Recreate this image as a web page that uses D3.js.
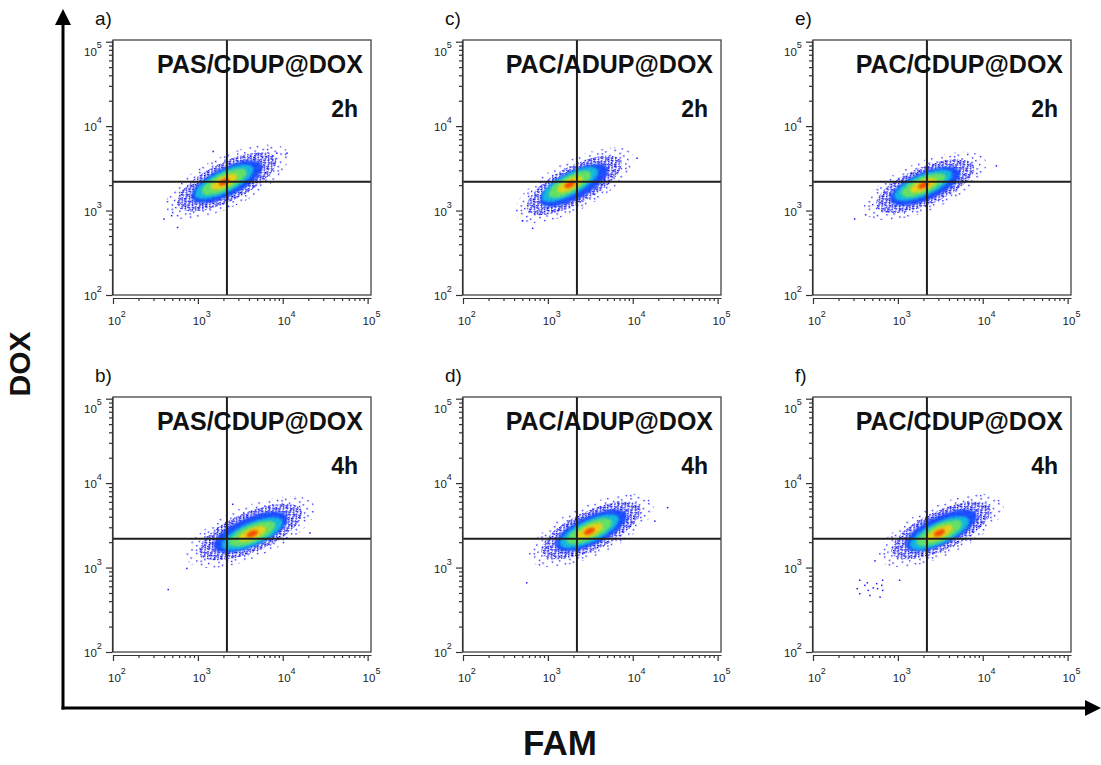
<!DOCTYPE html>
<html>
<head>
<meta charset="utf-8">
<script src="https://cdn.jsdelivr.net/npm/d3@7"></script>
<style>
  body { margin: 0; background: #fff; }
  svg { display: block; font-family: "Liberation Sans", Arial, sans-serif; }
</style>
</head>
<body>
<svg id="chart" width="1101" height="765"></svg>
<script>
// ---- data ----
var panelLetters = ["a)", "b)", "c)", "d)", "e)", "f)"];
var sampleNames  = ["PAS/CDUP@DOX", "PAS/CDUP@DOX", "PAC/ADUP@DOX", "PAC/ADUP@DOX", "PAC/CDUP@DOX", "PAC/CDUP@DOX"];
var timePoints   = ["2h", "4h", "2h", "4h", "2h", "4h"];
var majorTicks   = [1e2, 1e3, 1e4, 1e5];
var tickExponents = ["2", "3", "4", "5"];
var gateFAM = 2200, gateDOX = 2200;

// density cloud of each panel (log10 units)
var cloudFAM  = [3.34, 3.62, 3.31, 3.51, 3.32, 3.51];
var cloudDOX  = [3.34, 3.42, 3.30, 3.44, 3.29, 3.44];
var coreFAM   = [3.31, 3.64, 3.26, 3.49, 3.30, 3.49];
var coreDOX   = [3.34, 3.40, 3.31, 3.43, 3.30, 3.41];
var cloudTilt = [26, 23, 28, 25, 23, 25];
var cloudSpread = [1.0, 1.02, 0.97, 1.0, 0.97, 1.0];

// contour levels, outer -> inner: semi-axes in decades
var levelMajor = [0.80, 0.64, 0.46, 0.38, 0.29, 0.17, 0.07];
var levelMinor = [0.30, 0.23, 0.17, 0.13, 0.10, 0.065, 0.035];

// stray events outside the main cloud (log10 FAM / log10 DOX)
var strayFAM = [
  [2.76, 2.69, 3.93, 4.05, 3.18, 2.60],
  [2.65, 2.87, 4.32, 3.41],
  [2.82, 4.05, 2.70],
  [2.75, 4.41, 4.26],
  [2.49, 4.16, 2.62],
  [2.52, 2.55, 2.61, 2.65, 2.67, 2.71, 2.75, 2.76, 2.81, 2.82, 2.55, 2.79, 2.64, 2.82, 3.02, 2.73]
];
var strayDOX = [
  [2.80, 2.94, 3.68, 3.68, 3.70, 2.90],
  [2.74, 2.99, 3.41, 3.75],
  [2.79, 3.62, 2.88],
  [2.82, 3.71, 3.55],
  [2.90, 3.53, 2.95],
  [2.75, 2.69, 2.79, 2.73, 2.67, 2.76, 2.81, 2.75, 2.79, 2.73, 2.85, 2.65, 2.82, 2.85, 2.85, 3.08]
];

// ---- layout ----
var pw = 258, ph = 255;
var colX = [113, 463, 813], rowY = [40, 397];
var levelFill = ["url(#pSparse)", "url(#pBlue)", "url(#pLight)", "url(#pCyan)", "url(#pGreen)", "url(#pYellow)", "url(#pRed)"];

var svg = d3.select("#chart");
var defs = svg.append("defs");

function speckle(id, w, h, bg, dot, pts, size) {
  var p = defs.append("pattern").attr("id", id).attr("patternUnits", "userSpaceOnUse")
    .attr("width", w).attr("height", h);
  if (bg) p.append("rect").attr("width", w).attr("height", h).attr("fill", bg);
  pts.forEach(function(d) {
    p.append("rect").attr("x", d[0]).attr("y", d[1]).attr("width", size).attr("height", size).attr("fill", dot);
  });
}
speckle("pSparse", 14, 12, null, "#1f1fff", [[2,3],[9,1],[6,8],[12,6],[0,10],[10,10]], 1.4);
speckle("pBlue", 8, 7, null, "#0808e6", [[0,0],[4,1],[2,3],[6,4],[1,5],[5,6],[3,0],[7,2],[0,3],[4,5]], 1.5);
speckle("pLight", 7, 6, "#2030ff", "#0088ff", [[0,0],[3,2],[5,4],[1,4]], 1.6);
speckle("pCyan", 6, 6, "#00a8f0", "#30d8b0", [[0,0],[3,3],[1,4],[4,1]], 1.6);
speckle("pGreen", 6, 5, "#3ada78", "#a8ee28", [[0,0],[3,2],[5,4],[1,3]], 1.6);
speckle("pYellow", 5, 5, "#dce820", "#ff8c00", [[0,0],[3,2],[1,3]], 1.5);
speckle("pRed", 4, 4, "#ff6400", "#e01000", [[0,0],[2,2]], 1.6);

defs.append("filter").attr("id", "soft").attr("x", "-20%").attr("y", "-20%").attr("width", "140%").attr("height", "140%")
  .append("feGaussianBlur").attr("stdDeviation", 0.9);

var x = d3.scaleLog().domain([1e2, Math.pow(10, 5.04)]).range([0, pw]);
var y = d3.scaleLog().domain([1e2, Math.pow(10, 5.02)]).range([ph, 0]);
var minorX = x.ticks().filter(function(v) { return majorTicks.indexOf(v) < 0; });
var minorY = y.ticks().filter(function(v) { return majorTicks.indexOf(v) < 0; });

function p10(v) { return Math.pow(10, v); }

panelLetters.forEach(function(letter, i) {
  var col = Math.floor(i / 2), row = i % 2;
  var g = svg.append("g").attr("transform", "translate(" + colX[col] + "," + rowY[row] + ")");

  g.append("clipPath").attr("id", "clip" + i)
    .append("rect").attr("width", pw).attr("height", ph);
  var plot = g.append("g").attr("clip-path", "url(#clip" + i + ")");

  // density contours
  levelMajor.forEach(function(a, k) {
    var inner = k >= 3;
    var cxv = inner ? coreFAM[i] : cloudFAM[i];
    var cyv = inner ? coreDOX[i] : cloudDOX[i];
    var cx = x(p10(cxv)), cy = y(p10(cyv));
    var rx = x(p10(cxv + a * cloudSpread[i])) - cx;
    var ry = cy - y(p10(cyv + levelMinor[k] * cloudSpread[i]));
    plot.append("ellipse")
      .attr("cx", cx).attr("cy", cy).attr("rx", rx).attr("ry", ry)
      .attr("transform", "rotate(" + (-cloudTilt[i]) + "," + cx + "," + cy + ")")
      .attr("fill", levelFill[k])
      .attr("filter", k >= 2 ? "url(#soft)" : null);
  });

  // stray events
  plot.selectAll("rect.stray").data(strayFAM[i]).enter().append("rect")
    .attr("class", "stray")
    .attr("x", function(d) { return x(p10(d)) - 0.7; })
    .attr("y", function(d, j) { return y(p10(strayDOX[i][j])) - 0.7; })
    .attr("width", 1.5).attr("height", 1.5)
    .attr("fill", "#1a1aff");

  // quadrant gates
  plot.append("line").attr("x1", x(gateFAM)).attr("x2", x(gateFAM)).attr("y1", 0).attr("y2", ph)
    .attr("stroke", "#1e1e1e").attr("stroke-width", 2);
  plot.append("line").attr("x1", 0).attr("x2", pw).attr("y1", y(gateDOX)).attr("y2", y(gateDOX))
    .attr("stroke", "#1e1e1e").attr("stroke-width", 2);

  // frame
  g.append("rect").attr("width", pw).attr("height", ph)
    .attr("fill", "none").attr("stroke", "#444").attr("stroke-width", 1.3);

  // axes
  var xa = g.append("g").attr("transform", "translate(0," + (ph + 3) + ")");
  xa.call(d3.axisBottom(x).tickValues(minorX).tickSize(3).tickSizeOuter(0).tickFormat(""));
  xa.append("g").call(d3.axisBottom(x).tickValues(majorTicks).tickSize(6).tickSizeOuter(0).tickFormat(""))
    .select(".domain").remove();
  var ya = g.append("g").attr("transform", "translate(-1,0)");
  ya.call(d3.axisLeft(y).tickValues(minorY).tickSize(3).tickSizeOuter(0).tickFormat(""));
  ya.append("g").call(d3.axisLeft(y).tickValues(majorTicks).tickSize(6).tickSizeOuter(0).tickFormat(""))
    .select(".domain").remove();
  g.selectAll(".domain, .tick line").attr("stroke", "#333").attr("stroke-width", 1.2);

  // tick labels 10^n
  majorTicks.forEach(function(v, k) {
    var t = g.append("text").attr("x", x(v) - 5).attr("y", ph + 30)
      .attr("font-size", 11.5).attr("fill", "#222");
    t.append("tspan").text("10");
    t.append("tspan").attr("dy", -8).attr("font-size", 9).text(tickExponents[k]);

    var ty = y(v) + (k === 3 ? 14 : 5);
    var u = g.append("text").attr("x", -29).attr("y", ty)
      .attr("font-size", 11.5).attr("fill", "#222");
    u.append("tspan").text("10");
    u.append("tspan").attr("dy", -8).attr("font-size", 9).text(tickExponents[k]);
  });

  // panel letter, sample and time
  g.append("text").attr("x", -18).attr("y", -15)
    .attr("font-size", 19).attr("fill", "#111").text(letter);
  g.append("text").attr("x", pw - 8).attr("y", 33)
    .attr("text-anchor", "end").attr("font-size", 25).attr("font-weight", "bold").attr("fill", "#111")
    .text(sampleNames[i]);
  g.append("text").attr("x", pw - 13).attr("y", 77)
    .attr("text-anchor", "end").attr("font-size", 23).attr("font-weight", "bold").attr("fill", "#111")
    .text(timePoints[i]);
});

// overall axes with arrows
var ox = 63, oy = 708;
svg.append("line").attr("x1", ox).attr("y1", oy + 1.5).attr("x2", ox).attr("y2", 22)
  .attr("stroke", "#000").attr("stroke-width", 3);
svg.append("path").attr("d", "M" + ox + ",9L" + (ox - 8) + ",25L" + (ox + 8) + ",25Z").attr("fill", "#000");
svg.append("line").attr("x1", ox - 1.5).attr("y1", oy).attr("x2", 1088).attr("y2", oy)
  .attr("stroke", "#000").attr("stroke-width", 3);
svg.append("path").attr("d", "M1101," + oy + "L1085," + (oy - 8) + "L1085," + (oy + 8) + "Z").attr("fill", "#000");

svg.append("text").attr("transform", "translate(30,364) rotate(-90)")
  .attr("text-anchor", "middle").attr("font-size", 30).attr("font-weight", "bold").attr("fill", "#111")
  .text("DOX");
svg.append("text").attr("x", 560).attr("y", 755)
  .attr("text-anchor", "middle").attr("font-size", 35).attr("font-weight", "bold").attr("fill", "#111")
  .text("FAM");
</script>
</body>
</html>
